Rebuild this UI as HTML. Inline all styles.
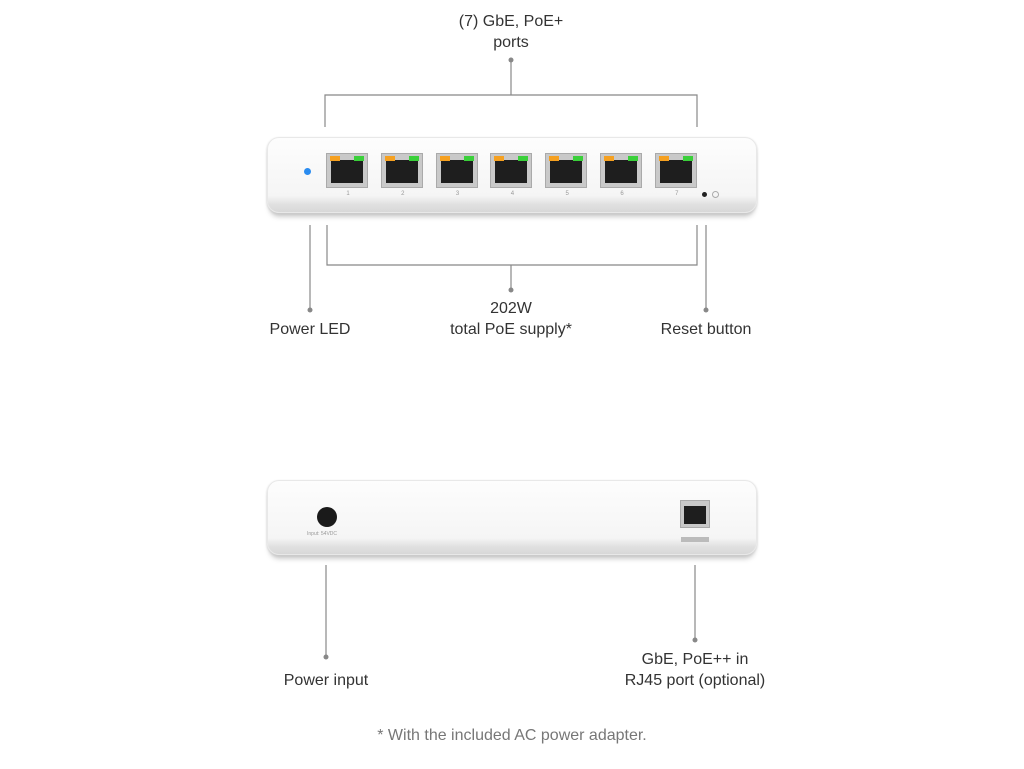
<!DOCTYPE html>
<html><head><meta charset="utf-8"><style>
body{margin:0;width:1024px;height:769px;background:#fff;position:relative;overflow:hidden;font-family:"Liberation Sans",sans-serif;color:#333}
.t{position:absolute;font-size:16px;text-align:center;line-height:21px;white-space:nowrap;transform:translateX(-50%)}
.dev{position:absolute;left:267px;width:488px;border-radius:12px;background:linear-gradient(#fdfdfd,#f5f5f5 78%,#e0e0e0 90%,#d8d8d8);box-shadow:0 1px 2px #ccc,0 6px 6px -3px #bbb;border:1px solid #e8e8e8}
.port{position:absolute;width:42px;height:35px;background:#c9c9c9;border:1px solid #aaa;box-sizing:border-box}
.port i{position:absolute;left:4px;top:6px;right:4px;bottom:4px;background:#1e1e1e}
.port b{position:absolute;top:2px;width:10px;height:5px}
.pl{position:absolute;top:37px;width:42px;text-align:center;font-size:6px;color:#999}
</style></head><body>
<svg width="1024" height="769" style="position:absolute;left:0;top:0">
<g stroke="#888" stroke-width="1.2" fill="none">
<path d="M325 127V95H697V127M511 95V60"/>
<path d="M327 225V265H697V225M511 265V290"/>
<path d="M310 225V310M706 225V310"/>
<path d="M326 565V657M695 565V640"/>
</g>
<g fill="#888"><circle cx="511" cy="60" r="2.5"/><circle cx="511" cy="290" r="2.5"/><circle cx="310" cy="310" r="2.5"/><circle cx="706" cy="310" r="2.5"/><circle cx="326" cy="657" r="2.5"/><circle cx="695" cy="640" r="2.5"/></g>
</svg>
<div class="t" style="left:511px;top:11px">(7) GbE, PoE+<br>ports</div>
<div class="t" style="left:511px;top:298px">202W<br>total PoE supply*</div>
<div class="t" style="left:310px;top:319px">Power LED</div>
<div class="t" style="left:706px;top:319px">Reset button</div>
<div class="t" style="left:326px;top:670px">Power input</div>
<div class="t" style="left:695px;top:649px">GbE, PoE++ in<br>RJ45 port (optional)</div>
<div class="t" style="left:512px;top:725px;color:#777">* With the included AC power adapter.</div>

<div class="dev" style="top:137px;height:74px">
<div style="position:absolute;left:36px;top:30px;width:7px;height:7px;border-radius:50%;background:#2a8cf0"></div>
<div style="position:absolute;left:434px;top:54px;width:5px;height:5px;border-radius:50%;background:#222"></div>
<div style="position:absolute;left:444px;top:53px;width:5px;height:5px;border-radius:50%;border:1px solid #aaa"></div>
</div>
<div id="ports"></div>
<div class="dev" style="top:480px;height:73px">
<div style="position:absolute;left:49px;top:26px;width:20px;height:20px;border-radius:50%;background:#1a1a1a"></div>
<div style="position:absolute;left:39px;top:50px;font-size:5px;color:#999">Input: 54VDC</div>
<div class="port" style="left:412px;top:19px;width:30px;height:28px"><i style="left:3px;top:5px;right:3px;bottom:3px"></i></div>
<div style="position:absolute;left:413px;top:56px;width:28px;height:5px;background:#bbb"></div>
</div>
<script>
var h='';for(var k=0;k<7;k++){var x=326+k*54.8;h+='<div class="port" style="left:'+x+'px;top:153px"><i></i><b style="left:3px;background:#f5a020"></b><b style="right:3px;background:#3ad03a"></b><div class="pl">'+(k+1)+'</div></div>';}
document.getElementById('ports').innerHTML=h;
</script>
</body></html>
